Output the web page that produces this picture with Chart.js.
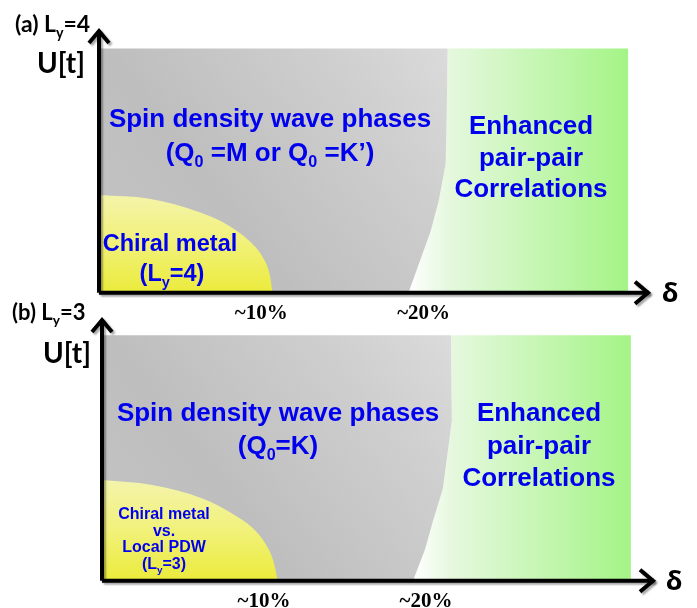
<!DOCTYPE html>
<html>
<head>
<meta charset="utf-8">
<script src="https://cdn.jsdelivr.net/npm/chart.js@4.4.1/dist/chart.umd.min.js"></script>
<style>
  html, body { margin: 0; padding: 0; background: #ffffff; overflow: hidden; }
  #wrap { position: relative; width: 697px; height: 608px; overflow: hidden; }
  canvas { position: absolute; left: 0; }
  #cA { top: 0; }
  #cB { top: 290px; }
</style>
</head>
<body>
<div id="wrap">
  <canvas id="cA" width="697" height="340"></canvas>
  <canvas id="cB" width="697" height="336"></canvas>
</div>
<script>
// ---- doping axis ticks ----
const tickValues = [0.1, 0.2];
const tickLabels = ['~10%', '~20%'];

// ---- panel (a): L_y = 4 ----
const uTopA = 10;                 // upper edge of the shaded phase regions
const sdwEdgeA = [                // SDW / pair-correlation boundary, top to bottom
  { x: 0.2148, y: 10 }, { x: 0.2142, y: 7.05 }, { x: 0.2136, y: 5.28 },
  { x: 0.2093, y: 3.75 }, { x: 0.2043, y: 2.51 }, { x: 0.1969, y: 1.15 },
  { x: 0.1907, y: 0 }
];
const pairEdgeA = 0.326;          // right end of the pair-pair region
const chiralA = [                 // chiral metal dome
  { x: 0, y: 4.0 }, { x: 0.031, y: 3.85 }, { x: 0.062, y: 3.3 }, { x: 0.080, y: 2.75 },
  { x: 0.093, y: 2.1 }, { x: 0.101, y: 1.45 }, { x: 0.105, y: 0.8 }, { x: 0.107, y: 0 }
];

// ---- panel (b): L_y = 3 ----
const uTopB = 10;
const sdwEdgeB = [
  { x: 0.2154, y: 10 }, { x: 0.2160, y: 6.52 }, { x: 0.2105, y: 3.77 },
  { x: 0.2043, y: 2.42 }, { x: 0.1994, y: 1.27 }, { x: 0.1920, y: 0 }
];
const pairEdgeB = 0.3265;
const chiralB = [
  { x: 0, y: 4.1 }, { x: 0.031, y: 3.9 }, { x: 0.062, y: 3.35 }, { x: 0.080, y: 2.75 },
  { x: 0.093, y: 2.15 }, { x: 0.101, y: 1.5 }, { x: 0.1056, y: 0.85 }, { x: 0.1086, y: 0 }
];

const BLUE = '#0000ee';
const SANS = '"Liberation Sans", Arial, sans-serif';
const LABEL = 'Lato, "Open Sans", sans-serif';

// Draws a line of text made of normal and subscript pieces, centred on cx.
function richText(ctx, segs, cx, baseline, size, family, color, align) {
  const subSize = size * 0.62;
  const widths = segs.map(s => {
    ctx.font = `bold ${s.sub ? subSize : size}px ${family}`;
    return ctx.measureText(s.t).width;
  });
  const total = widths.reduce((a, b) => a + b, 0);
  let x = align === 'left' ? cx : cx - total / 2;
  ctx.fillStyle = color;
  ctx.textAlign = 'left';
  ctx.textBaseline = 'alphabetic';
  segs.forEach((s, i) => {
    ctx.font = `bold ${s.sub ? subSize : size}px ${family}`;
    ctx.fillText(s.t, x, s.sub ? baseline + size * 0.24 : baseline);
    x += widths[i];
  });
}

function gradYellow(c, uTop) {
  const ch = c.chart, a = ch.chartArea;
  if (!a) return 'rgba(0,0,0,0)';
  const y0 = ch.scales.y.getPixelForValue(uTop * 0.41);
  const g = ch.ctx.createLinearGradient(0, y0, 0, a.bottom);
  g.addColorStop(0, '#f4f4ac');
  g.addColorStop(0.5, '#f1f17a');
  g.addColorStop(1, '#ebeb3c');
  return g;
}
function gradGray(c, edge) {
  const ch = c.chart, a = ch.chartArea;
  if (!a) return 'rgba(0,0,0,0)';
  const x1 = ch.scales.x.getPixelForValue(edge[0].x);
  const g = ch.ctx.createLinearGradient(a.left, a.bottom, x1, a.top);
  g.addColorStop(0, '#c4c4c4');
  g.addColorStop(0.35, '#bebebe');
  g.addColorStop(0.75, '#cfcfcf');
  g.addColorStop(1, '#dcdcdc');
  return g;
}
function gradGreen(c, edge, pairEdge) {
  const ch = c.chart, a = ch.chartArea;
  if (!a) return 'rgba(0,0,0,0)';
  const xs = ch.scales.x;
  const x0 = xs.getPixelForValue(edge[edge.length - 1].x);
  const xt = xs.getPixelForValue(edge[0].x);
  const x1 = xs.getPixelForValue(pairEdge);
  const g = ch.ctx.createLinearGradient(x0, 0, x1, 0);
  g.addColorStop(0, '#ffffff');
  g.addColorStop(Math.min(0.99, (xt - x0) / (x1 - x0)), '#e6f8df');
  g.addColorStop(1, '#a4f486');
  return g;
}

function makeDatasets(p) {
  const sdw = [{ x: 0, y: 0 }, { x: 0, y: p.uTop }, ...p.sdwEdge];
  const pair = [...p.sdwEdge.slice().reverse(), { x: p.pairEdge, y: p.uTop }, { x: p.pairEdge, y: 0 }];
  const common = { borderWidth: 0, borderColor: 'rgba(0,0,0,0)', pointRadius: 0, pointHoverRadius: 0 };
  return [
    Object.assign({ label: 'Chiral metal', data: p.chiral, fill: 'origin', cubicInterpolationMode: 'monotone',
      backgroundColor: c => gradYellow(c, p.uTop) }, common),
    Object.assign({ label: 'Spin density wave', data: sdw, fill: 'shape', tension: 0,
      backgroundColor: c => gradGray(c, p.sdwEdge) }, common),
    Object.assign({ label: 'Enhanced pair-pair correlations', data: pair, fill: 'shape', tension: 0,
      backgroundColor: c => gradGreen(c, p.sdwEdge, p.pairEdge) }, common)
  ];
}

// Axes with arrow heads plus the in-plot labels.
function decorPlugin(p) {
  return {
    id: 'decor',
    afterDatasetsDraw(chart) {
      const ctx = chart.ctx, a = chart.chartArea;
      ctx.save();
      ctx.strokeStyle = '#000';
      ctx.lineWidth = 4;
      ctx.lineJoin = 'miter';
      ctx.shadowColor = 'rgba(0,0,0,0.35)';
      ctx.shadowOffsetX = 2;
      ctx.shadowOffsetY = 2;
      ctx.shadowBlur = 2;
      ctx.beginPath();
      ctx.moveTo(a.left, a.bottom);
      ctx.lineTo(a.left, a.top + 1);
      ctx.moveTo(a.left, a.bottom);
      ctx.lineTo(a.right - 1, a.bottom);
      ctx.stroke();
      ctx.beginPath();
      ctx.moveTo(a.left - 10, a.top + 14);
      ctx.lineTo(a.left, a.top + 2);
      ctx.lineTo(a.left + 10, a.top + 14);
      ctx.moveTo(a.right - 15, a.bottom - 11);
      ctx.lineTo(a.right - 2, a.bottom);
      ctx.lineTo(a.right - 15, a.bottom + 11);
      ctx.stroke();
      ctx.restore();
    },
    afterDraw(chart) {
      const ctx = chart.ctx;
      ctx.save();
      p.texts.forEach(t => richText(ctx, t.segs, t.x, t.y, t.size, t.family || SANS, t.color || BLUE, t.align));
      ctx.restore();
    }
  };
}

function makeChart(id, p) {
  return new Chart(document.getElementById(id), {
    type: 'line',
    data: { datasets: makeDatasets(p) },
    options: {
      responsive: false,
      devicePixelRatio: 1,
      animation: false,
      events: [],
      layout: { padding: p.padding },
      plugins: { legend: { display: false }, tooltip: { enabled: false }, title: { display: false } },
      scales: {
        x: {
          type: 'linear', min: 0, max: p.xMax,
          grid: { display: false, drawTicks: false },
          border: { display: false },
          afterBuildTicks: s => { s.ticks = tickValues.map(v => ({ value: v })); },
          ticks: {
            autoSkip: false, maxRotation: 0, padding: 8, color: '#000',
            font: { family: '"Liberation Serif", "Times New Roman", serif', size: 21, weight: 'bold', lineHeight: 1.2 },
            callback: (v) => tickLabels[tickValues.indexOf(v)]
          }
        },
        y: { type: 'linear', min: 0, max: p.yMax, display: false }
      }
    },
    plugins: [decorPlugin(p)]
  });
}

makeChart('cA', {
  uTop: uTopA, sdwEdge: sdwEdgeA, pairEdge: pairEdgeA, chiral: chiralA,
  xMax: 0.3395, yMax: 10.8,
  padding: { left: 99, right: 47, top: 29, bottom: 6 },
  texts: [
    { segs: [{ t: '(a) L' }, { t: 'y', sub: true }, { t: '=4' }], x: 15, y: 32, size: 23, family: LABEL, color: '#000', align: 'left' },
    { segs: [{ t: 'U[t]' }], x: 61, y: 73, size: 28, family: LABEL, color: '#000' },
    { segs: [{ t: 'δ' }], x: 670, y: 302, size: 27, family: '"Open Sans", "DejaVu Sans", sans-serif', color: '#000' },
    { segs: [{ t: 'Spin density wave phases' }], x: 270, y: 127, size: 26 },
    { segs: [{ t: '(Q' }, { t: '0', sub: true }, { t: ' =M or Q' }, { t: '0', sub: true }, { t: ' =K’)' }], x: 270, y: 161, size: 26 },
    { segs: [{ t: 'Enhanced' }], x: 531, y: 134, size: 26 },
    { segs: [{ t: 'pair-pair' }], x: 531, y: 166, size: 26 },
    { segs: [{ t: 'Correlations' }], x: 531, y: 197, size: 26 },
    { segs: [{ t: 'Chiral metal' }], x: 170, y: 251, size: 23.5 },
    { segs: [{ t: '(L' }, { t: 'y', sub: true }, { t: '=4)' }], x: 172, y: 281, size: 23.5 }
  ]
});

makeChart('cB', {
  uTop: uTopB, sdwEdge: sdwEdgeB, pairEdge: pairEdgeB, chiral: chiralB,
  xMax: 0.3414, yMax: 10.7,
  padding: { left: 102, right: 42, top: 28, bottom: 4 },
  texts: [
    { segs: [{ t: '(b) L' }, { t: 'y', sub: true }, { t: '=3' }], x: 12, y: 30, size: 22, family: LABEL, color: '#000', align: 'left' },
    { segs: [{ t: 'U[t]' }], x: 67, y: 73, size: 28, family: LABEL, color: '#000' },
    { segs: [{ t: 'δ' }], x: 674, y: 300, size: 27, family: '"Open Sans", "DejaVu Sans", sans-serif', color: '#000' },
    { segs: [{ t: 'Spin density wave phases' }], x: 278, y: 131, size: 26 },
    { segs: [{ t: '(Q' }, { t: '0', sub: true }, { t: '=K)' }], x: 278, y: 164, size: 26 },
    { segs: [{ t: 'Enhanced' }], x: 539, y: 131, size: 26 },
    { segs: [{ t: 'pair-pair' }], x: 539, y: 164, size: 26 },
    { segs: [{ t: 'Correlations' }], x: 539, y: 196, size: 26 },
    { segs: [{ t: 'Chiral metal' }], x: 164, y: 229, size: 16 },
    { segs: [{ t: 'vs.' }], x: 164, y: 246, size: 16 },
    { segs: [{ t: 'Local PDW' }], x: 164, y: 262, size: 16 },
    { segs: [{ t: '(L' }, { t: 'y', sub: true }, { t: '=3)' }], x: 164, y: 279, size: 16 }
  ]
});
</script>
</body>
</html>
